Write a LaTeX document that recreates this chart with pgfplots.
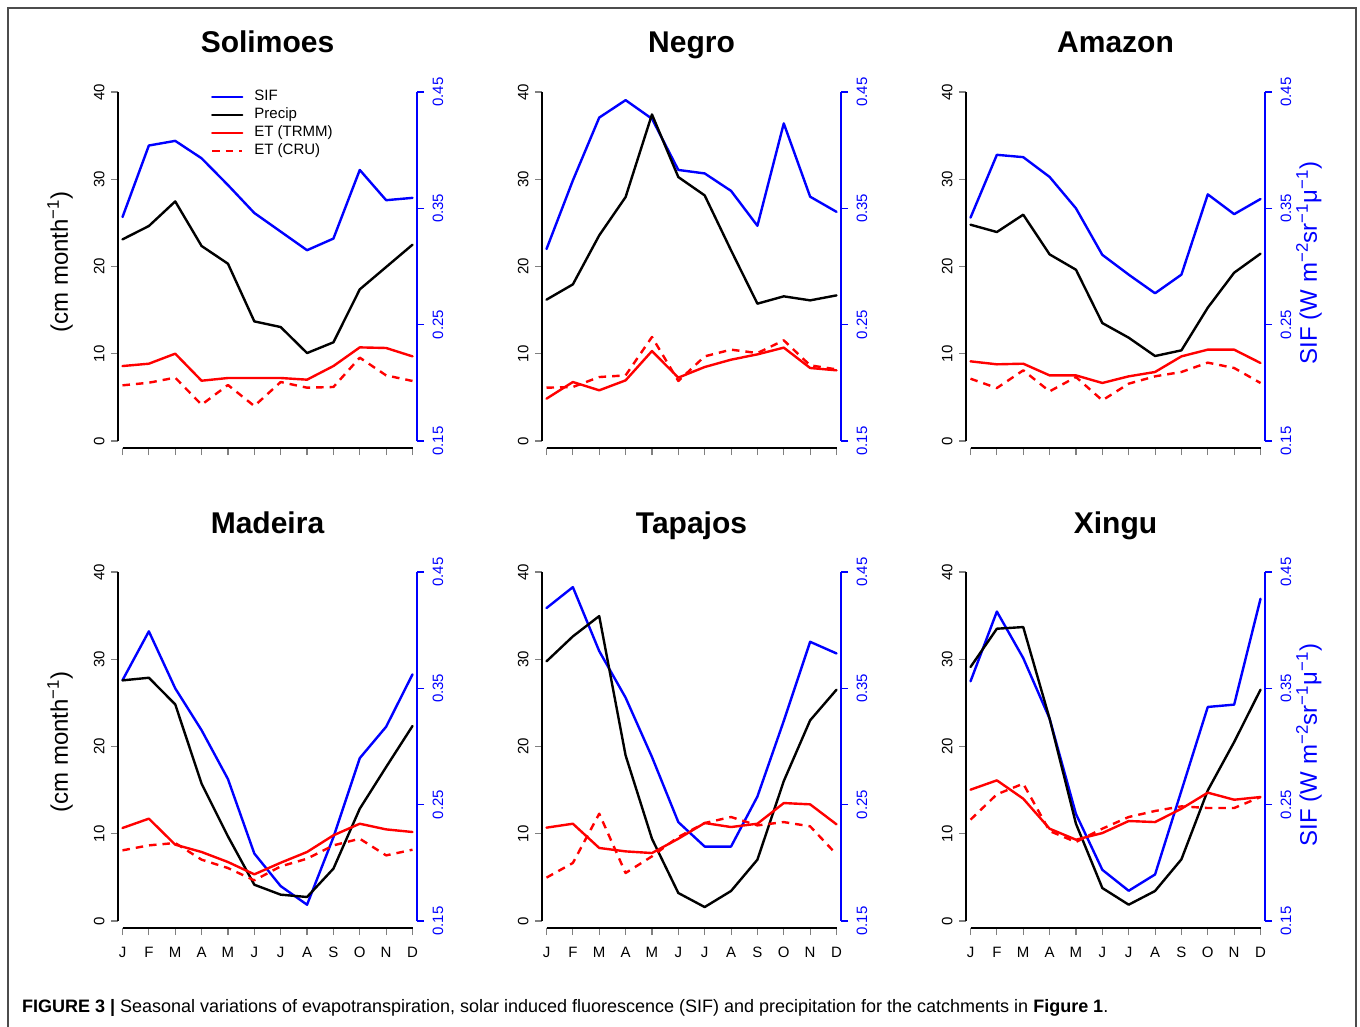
\documentclass[border=0pt]{standalone}
\usepackage{fontspec}
\setmainfont{Liberation Sans}
\setsansfont{Liberation Sans}
\usepackage{graphicx}
\usepackage{pgfplots}
\usepackage{pgfplotstable}
\pgfplotsset{compat=1.18}

\pgfplotstableread{
m sif pre trmm cru
1 0.3425 23.11 8.59 6.38
2 0.404 24.64 8.86 6.68
3 0.408 27.46 10.01 7.26
4 0.393 22.35 6.91 4.16
5 0.370 20.32 7.22 6.42
6 0.346 13.71 7.22 4.01
7 0.330 13.06 7.22 6.76
8 0.314 10.08 7.03 6.11
9 0.324 11.31 8.59 6.19
10 0.383 17.38 10.73 9.55
11 0.357 19.94 10.66 7.52
12 0.359 22.50 9.70 6.88
}\tabSolimoes
\pgfplotstableread{
m sif pre trmm cru
1 0.315 16.20 4.85 6.11
2 0.374 17.95 6.76 6.19
3 0.428 23.57 5.81 7.33
4 0.443 27.96 6.95 7.52
5 0.427 37.43 10.31 11.92
6 0.383 30.25 7.26 6.88
7 0.380 28.15 8.48 9.70
8 0.365 21.85 9.32 10.47
9 0.335 15.74 9.93 10.08
10 0.423 16.58 10.70 11.54
11 0.360 16.12 8.37 8.67
12 0.347 16.69 8.10 8.21
}\tabNegro
\pgfplotstableread{
m sif pre trmm cru
1 0.342 24.79 9.13 7.14
2 0.396 23.95 8.79 6.07
3 0.394 25.94 8.86 8.10
4 0.377 21.39 7.52 5.69
5 0.350 19.63 7.52 7.33
6 0.310 13.52 6.65 4.66
7 0.293 11.84 7.41 6.57
8 0.277 9.74 7.91 7.41
9 0.293 10.39 9.70 7.91
10 0.362 15.28 10.47 8.98
11 0.345 19.29 10.47 8.37
12 0.358 21.47 8.94 6.65
}\tabAmazon
\pgfplotstableread{
m sif pre trmm cru
1 0.357 27.58 10.66 8.10
2 0.399 27.88 11.73 8.67
3 0.350 24.83 8.75 8.94
4 0.314 15.74 7.91 7.03
5 0.272 9.70 6.76 6.07
6 0.208 4.16 5.35 4.66
7 0.180 3.02 6.68 6.26
8 0.164 2.75 7.91 7.14
9 0.222 6.00 9.82 8.67
10 0.290 12.87 11.15 9.43
11 0.317 17.65 10.50 7.52
12 0.362 22.35 10.20 8.17
}\tabMadeira
\pgfplotstableread{
m sif pre trmm cru
1 0.419 29.76 10.70 4.97
2 0.437 32.62 11.15 6.65
3 0.382 34.95 8.37 12.30
4 0.342 18.98 7.98 5.50
5 0.291 9.43 7.79 7.41
6 0.235 3.21 9.43 9.63
7 0.214 1.60 11.23 11.23
8 0.214 3.44 10.77 11.92
9 0.257 7.03 11.15 10.96
10 0.322 16.04 13.52 11.34
11 0.390 23.00 13.37 10.85
12 0.380 26.51 11.08 7.64
}\tabTapajos
\pgfplotstableread{
m sif pre trmm cru
1 0.356 29.11 15.05 11.61
2 0.416 33.50 16.12 14.52
3 0.376 33.69 14.02 15.74
4 0.324 23.19 10.58 10.31
5 0.242 11.15 9.32 9.05
6 0.194 3.78 10.08 10.58
7 0.176 1.87 11.46 11.92
8 0.190 3.44 11.34 12.61
9 0.262 7.07 12.87 13.14
10 0.334 14.97 14.71 12.95
11 0.336 20.51 13.90 12.95
12 0.427 26.51 14.21 14.21
}\tabXingu

\tikzset{
  dataline/.style={line width=2.4pt, line join=round, line cap=round},
  crudash/.style={line cap=butt, dash pattern=on 7.5pt off 6pt},
}
\pgfplotsset{
  base/.style={scale only axis, width=290pt, height=349pt, xmin=1, xmax=12, clip=false,
    axis line style={-, line width=1.1pt}, tick style={line width=1.1pt},
    major tick length=7pt, tick align=outside,
    tick label style={font=\fontsize{15}{18}\selectfont},
    /pgf/number format/assume math mode=true},
  leftax/.style={base, ymin=0, ymax=40,
    axis x line*=bottom, axis y line*=left,
    axis x line shift=7pt, axis y line shift=4.5pt,
    xtick={1,...,12}, xticklabels={J,F,M,A,M,J,J,A,S,O,N,D},
    xticklabel style={text height=11pt, text depth=0pt},
    xticklabel shift=8pt, yticklabel shift=3pt,
    ytick={0,10,20,30,40},
    yticklabel style={rotate=90, anchor=south},
    legend image code/.code={\draw[##1] (0pt,0pt) -- (30pt,0pt);}},
  rightax/.style={base, ymin=0.15, ymax=0.45,
    axis x line=none, axis y line*=right, axis y line shift=4.5pt,
    yticklabel shift=5pt,
    ytick={0.15,0.25,0.35,0.45},
    yticklabel style={rotate=90, anchor=north, text=blue,
      /pgf/number format/.cd, fixed, fixed zerofill, precision=2},
    y axis line style={blue}, ytick style={blue}},
}

\newcommand{\panel}[5]{%
  \begin{axis}[rightax, at={(#1pt,-#2pt)}, anchor=south west]
    \addplot[blue, dataline] table[x=m, y=sif] {#3};
  \end{axis}
  \begin{axis}[leftax, at={(#1pt,-#2pt)}, anchor=south west, #5]
    \addlegendimage{blue, dataline}
    \addplot[black, dataline] table[x=m, y=pre] {#3};
    \addplot[red, dataline] table[x=m, y=trmm] {#3};
    \addplot[red, dataline, crudash] table[x=m, y=cru] {#3};
  \end{axis}
  \node[font=\fontsize{30}{36}\selectfont\bfseries, anchor=base] at (#1+145,-#2+388) {#4};
}

\begin{document}
\begin{tikzpicture}[x=1pt, y=1pt]
\useasboundingbox (0,0) rectangle (1360,-1027);
\draw[black!70, line width=1.6pt] (8,-1040) -- (8,-8) -- (1356,-8) -- (1356,-1040);

\panel{122.5}{441}{\tabSolimoes}{Solimoes}{xticklabels={}, legend entries={SIF,Precip,ET (TRMM),ET (CRU)},
  legend style={draw=none, fill=none, at={(axis cs:4.35,40.3)}, anchor=north west, inner sep=0pt,
    font=\fontsize{15}{18}\selectfont, row sep=3.5pt,
    nodes={inner sep=0pt, text height=11pt, text depth=3.5pt},
    /tikz/every odd column/.append style={column sep=11pt}},
  legend cell align=left}
\panel{546.5}{441}{\tabNegro}{Negro}{xticklabels={}}
\panel{970.5}{441}{\tabAmazon}{Amazon}{xticklabels={}}
\panel{122.5}{921}{\tabMadeira}{Madeira}{}
\panel{546.5}{921}{\tabTapajos}{Tapajos}{}
\panel{970.5}{921}{\tabXingu}{Xingu}{}

\node[rotate=90, font=\fontsize{24}{28}\selectfont] at (60,-262) {(cm month\textsuperscript{−1})};
\node[rotate=90, font=\fontsize{24}{28}\selectfont] at (60,-742) {(cm month\textsuperscript{−1})};
\node[rotate=90, text=blue, font=\fontsize{24}{28}\selectfont] at (1309,-263) {SIF (W m\textsuperscript{−2}sr\textsuperscript{−1}μ\textsuperscript{−1})};
\node[rotate=90, text=blue, font=\fontsize{24}{28}\selectfont] at (1309,-745) {SIF (W m\textsuperscript{−2}sr\textsuperscript{−1}μ\textsuperscript{−1})};

\node[anchor=base west, inner sep=0pt] at (22,-1012) {\resizebox{1086pt}{\height}{\fontsize{18}{22}\selectfont\textbf{FIGURE 3 |} Seasonal variations of evapotranspiration, solar induced fluorescence (SIF) and precipitation for the catchments in \textbf{Figure 1}.}};
\end{tikzpicture}
\end{document}
